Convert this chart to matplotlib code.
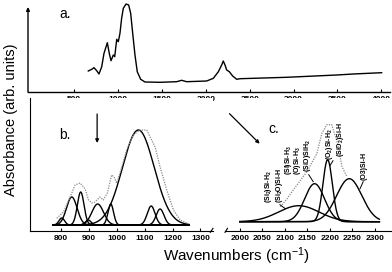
import numpy as np
import matplotlib
matplotlib.use("Agg")
import matplotlib.pyplot as plt

plt.rcParams['font.family'] = ['Liberation Sans', 'DejaVu Sans']
plt.rcParams['mathtext.fontset'] = 'custom'
plt.rcParams['mathtext.rm'] = 'Liberation Sans:bold'
plt.rcParams['mathtext.it'] = 'Liberation Sans:italic'
plt.rcParams['mathtext.bf'] = 'Liberation Sans:bold'

# ---------------- data ----------------
# panel a: full spectrum
a_wn = [661, 700, 726, 757, 783, 814, 840, 878, 900, 920, 946, 962, 985, 1003,
        1022, 1041, 1060, 1091, 1121, 1144, 1167, 1193, 1219, 1258, 1307, 1478,
        1668, 1725, 1782, 2010, 2086, 2143, 2181, 2199, 2219, 2238, 2268, 2306,
        2352, 2390, 2922, 3492, 3681, 4004]
a_abs = [21, 22.7, 24.3, 21.3, 18, 25.3, 38.7, 49.3, 38.7, 31.3, 37, 35.3, 52.7, 50.3,
         58.7, 73.7, 83.7, 88, 87, 78.7, 58.7, 37, 20.3, 12.7, 10, 9.7,
         10.3, 11.7, 10.3, 11, 13.7, 20.3, 27, 31, 27, 22, 20.3, 16,
         12.7, 13.3, 14.7, 17, 18, 19.3]
a_ticks = [500, 1000, 1500, 2000, 2500, 3000, 3500, 4000]

# panel b: Si-O region, fitted components + measured (dotted)
b_centers = [802, 838, 870, 897, 931, 978, 1077, 1123, 1155]
b_heights = [7, 28, 33, 5, 21, 21, 95, 19, 16]
b_widths = [10, 19, 12, 10, 21, 10, 57, 14, 14]
b_meas_wn = [784, 808, 832, 850, 868, 886, 898, 910, 921, 939, 951, 966, 981, 990,
             999, 1011, 1035, 1059, 1083, 1107, 1137, 1155, 1179, 1203, 1227, 1251]
b_meas_abs = [6.7, 13, 28, 40, 42, 36, 25, 22, 23, 28, 25, 32, 50, 48,
              42, 52, 75, 90, 95, 95, 78, 58, 35, 15, 5, 2]
b_ticks = [800, 900, 1000, 1100, 1200, 1300]

# panel c: Si-H region
c_centers = [2131, 2166, 2195, 2243]
c_heights = [16, 38, 62, 43]
c_widths = [45, 22, 10.5, 28]
c_meas_wn = [2090, 2105, 2119, 2134, 2149, 2160, 2171, 2182, 2193, 2204, 2216, 2227, 2238]
c_meas_abs = [15, 23, 32, 41, 50, 59, 68, 88, 97, 97, 80, 55, 45]
c_ticks = [2000, 2050, 2100, 2150, 2200, 2250, 2300]

c_labels = [r'$\mathregular{(Si_2)Si\text{-}H_2}$', r'$\mathregular{(Si_2O)Si\text{-}H}$',
            r'$\mathregular{(Si)Si\text{-}H_3}$', r'$\mathregular{(O)Si\text{-}H_3}$',
            r'$\mathregular{(SiO)SiH_2}$', r'$\mathregular{(O_2)Si\text{-}H_2}$',
            r'$\mathregular{(SiO_2)Si\text{-}H}$', '(O3)Si-H']
c_label_wn = [2064, 2088, 2107, 2129, 2151, 2199, 2224, 2276]
c_label_y = [19, 19, 47, 47, 50, 62, 65, 42]

# ---------------- layout helpers ----------------
W, H = 392, 272
fig = plt.figure(figsize=(W / 100, H / 100), dpi=100)


def rect(l, r, t, b):
    return [l / W, 1 - b / H, (r - l) / W, (b - t) / H]


def gauss(x, c, h, w):
    return h * np.exp(-(x - c) ** 2 / (2 * w ** 2))


tick_font = dict(fontsize=6, fontweight='bold')
LW = 1.0

# ---------------- panel a ----------------
ax_a = fig.add_axes(rect(28, 390, 0, 92))
ax_a.plot(a_wn, a_abs, color='black', lw=LW, clip_on=False)
ax_a.set_xlim(-26, 4099)
ax_a.set_ylim(0, 92)
for s in ['top', 'right', 'left']:
    ax_a.spines[s].set_visible(False)
ax_a.spines['bottom'].set_linewidth(1.0)
ax_a.set_yticks([])
ax_a.set_xticks(a_ticks)
ax_a.set_xticklabels([str(t) for t in a_ticks], **tick_font)
ax_a.tick_params(axis='x', direction='in', length=2, width=0.8, pad=3)
ax_a.annotate('', xy=(-26, 85), xytext=(-26, 0),
              arrowprops=dict(arrowstyle='-|>', lw=1.0, color='black',
                              mutation_scale=5, shrinkA=0, shrinkB=0),
              annotation_clip=False)
ax_a.text(0.088, 0.85, 'a.', transform=ax_a.transAxes, fontsize=10,
          ha='left', va='center')

# ---------------- panel b ----------------
ax_b = fig.add_axes(rect(30, 213, 98, 231))
xb = np.linspace(770, 1258, 600)
for c, h, w in zip(b_centers, b_heights, b_widths):
    ax_b.plot(xb, gauss(xb, c, h, w), color='black', lw=LW)
ax_b.plot(b_meas_wn, b_meas_abs, color='#8a8a8a', lw=0.9, linestyle=(0, (1, 1)))
ax_b.set_xlim(688, 1345)
ax_b.set_ylim(-6, 127)
for s in ['top', 'right']:
    ax_b.spines[s].set_visible(False)
ax_b.set_yticks([])
ax_b.set_xticks(b_ticks)
ax_b.set_xticklabels([str(t) for t in b_ticks], **tick_font)
ax_b.tick_params(axis='x', direction='in', length=2, width=0.8, pad=3)
ax_b.plot([0.985, 1.0], [-0.01, 0.02], transform=ax_b.transAxes, color='black',
          lw=0.8, clip_on=False)
ax_b.annotate('', xy=(929, 82), xytext=(929, 111),
              arrowprops=dict(arrowstyle='-|>', lw=0.9, color='black',
                              mutation_scale=5, shrinkA=0, shrinkB=0))
ax_b.text(0.16, 0.72, 'b.', transform=ax_b.transAxes, fontsize=10,
          ha='left', va='center')

# ---------------- panel c ----------------
ax_c = fig.add_axes(rect(225, 392, 98, 231))
xc = np.linspace(2000, 2310, 600)
for c, h, w in zip(c_centers, c_heights, c_widths):
    ax_c.plot(xc, gauss(xc, c, h, w), color='black', lw=LW)
ax_c.plot(c_meas_wn, c_meas_abs, color='#8a8a8a', lw=0.9, linestyle=(0, (1, 1)))
ax_c.set_xlim(1967, 2338)
ax_c.set_ylim(-9.3, 123.7)
for s in ['top', 'right', 'left']:
    ax_c.spines[s].set_visible(False)
ax_c.set_yticks([])
ax_c.set_xticks(c_ticks)
ax_c.set_xticklabels([str(t) for t in c_ticks], **tick_font)
ax_c.tick_params(axis='x', direction='in', length=2, width=0.8, pad=3)
ax_c.plot([0.0, 0.015], [-0.01, 0.02], transform=ax_c.transAxes, color='black',
          lw=0.8, clip_on=False)
ax_c.annotate('', xy=(2044, 78), xytext=(1977, 108),
              arrowprops=dict(arrowstyle='-|>', lw=0.9, color='black',
                              mutation_scale=5, shrinkA=0, shrinkB=0))
ax_c.text(0.26, 0.77, 'c.', transform=ax_c.transAxes, fontsize=10,
          ha='left', va='center')

for txt, xw, yb in zip(c_labels, c_label_wn, c_label_y):
    ax_c.text(xw, yb, txt, rotation=90, ha='center', va='bottom',
              fontsize=5.0, fontweight='bold')
# leader lines
ax_c.plot([2089, 2101], [17, 13], color='black', lw=0.7)
ax_c.plot([2153, 2163], [47, 40], color='black', lw=0.7)
ax_c.plot([2207, 2200], [61, 56], color='black', lw=0.7)
ax_c.plot([2274, 2267], [40, 33], color='black', lw=0.7)

# ---------------- axis labels ----------------
fig.text(236 / W, 1 - 256 / H, r'Wavenumbers (cm$^{\mathregular{-1}}$)', fontsize=11,
         ha='center', va='center', fontweight='normal')
fig.text(11 / W, 1 - 120 / H, 'Absorbance (arb. units)', fontsize=10.5,
         rotation=90, ha='center', va='center')

fig.savefig('out.png', dpi=100)
